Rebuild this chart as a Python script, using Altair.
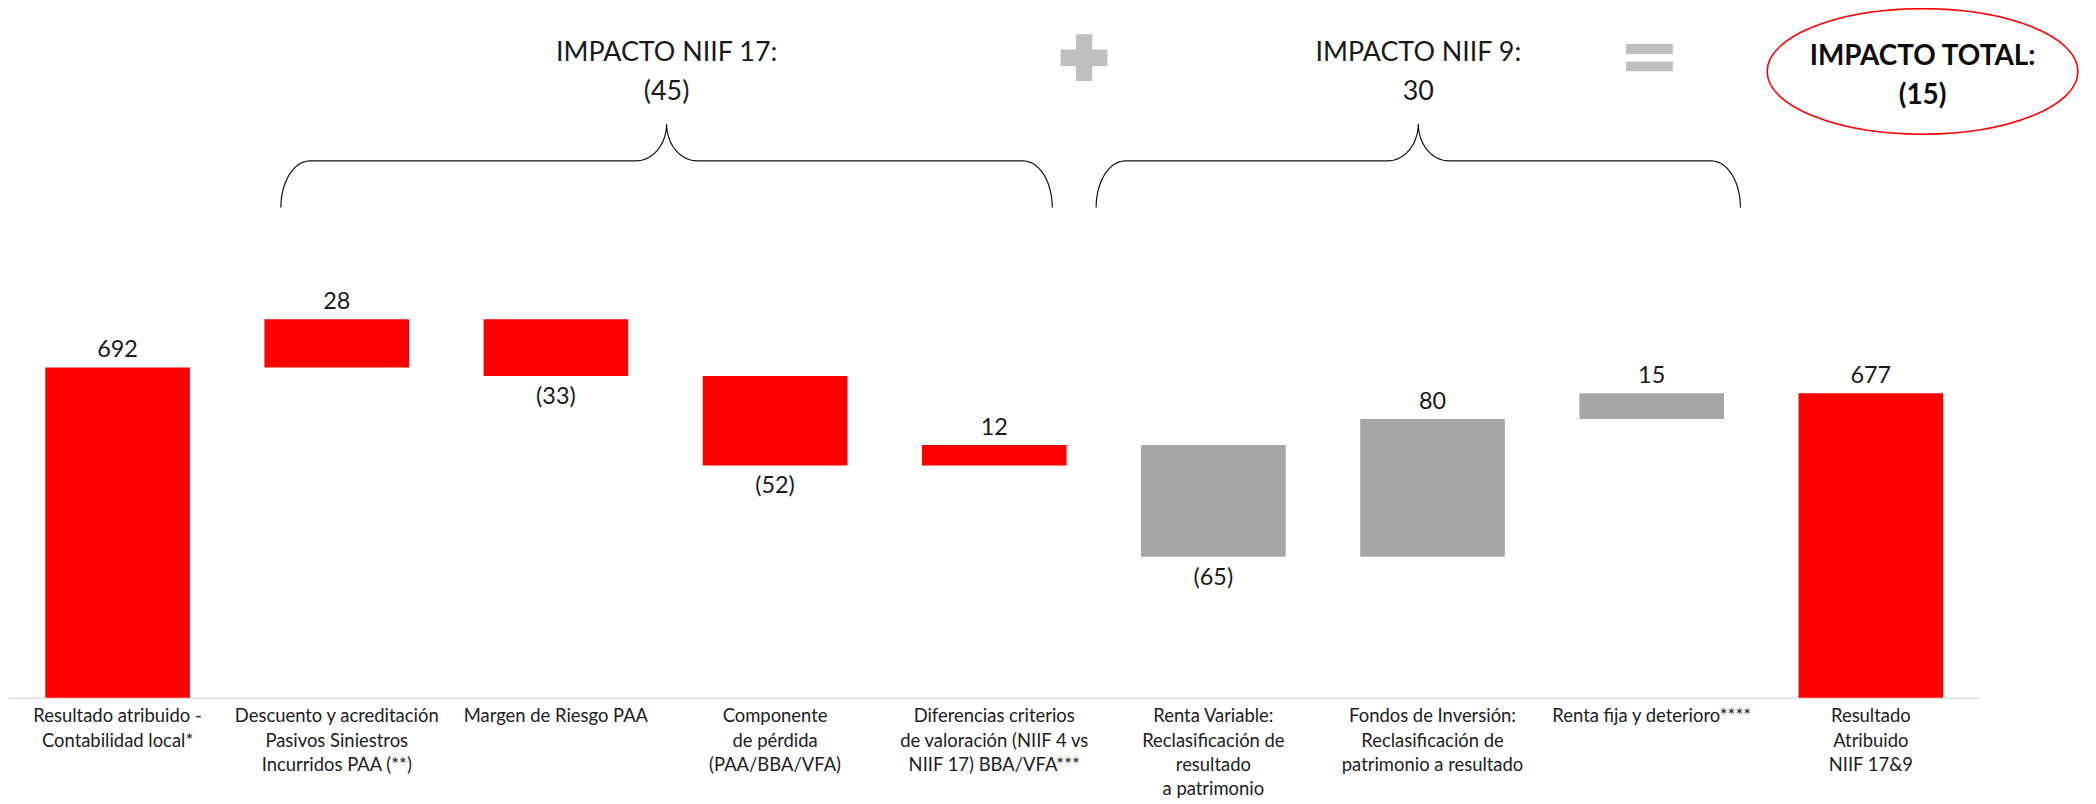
import math
import altair as alt
import pandas as pd

# ---------------- data ----------------
categories = [
    "Resultado atribuido -|Contabilidad local*",
    "Descuento y acreditación|Pasivos Siniestros|Incurridos PAA (**)",
    "Margen de Riesgo PAA",
    "Componente|de pérdida|(PAA/BBA/VFA)",
    "Diferencias criterios|de valoración (NIIF 4 vs|NIIF 17) BBA/VFA***",
    "Renta Variable:|Reclasificación de|resultado|a patrimonio",
    "Fondos de Inversión:|Reclasificación de|patrimonio a resultado",
    "Renta fija y deterioro****",
    "Resultado|Atribuido|NIIF 17&9",
]
values = [692, 28, -33, -52, 12, -65, 80, 15, 677]
kinds = ["total", "delta", "delta", "delta", "delta", "delta", "delta", "delta", "total"]
groups = ["Total", "NIIF 17", "NIIF 17", "NIIF 17", "NIIF 17", "NIIF 9", "NIIF 9", "NIIF 9", "Total"]

group_names = ["Total", "NIIF 17", "NIIF 9"]
group_colors = ["#FF0000", "#FF0000", "#A6A6A6"]

# ---------------- layout constants ----------------
W, H = 1980, 691
Y_MIN, Y_MAX = 500, 900
N = len(categories)
KX = N / W              # index units per pixel
KY = (Y_MAX - Y_MIN) / H  # value units per pixel
FONT = "Lato"
TXT = "#1a1a1a"


def fmt(v):
    return f"({abs(v)})" if v < 0 else f"{v}"


rows = []
running = 0
for c, v, k, g in zip(categories, values, kinds, groups):
    if k == "total":
        lo, hi = Y_MIN, v
        running = v
    else:
        prev = running
        running += v
        lo, hi = min(prev, running), max(prev, running)
    rows.append(dict(cat=c, lo=lo, hi=hi, group=g, label=fmt(v),
                     above=v >= 0, ypos=hi if v >= 0 else lo))
df = pd.DataFrame(rows)

niif17 = sum(v for v, g in zip(values, groups) if g == "NIIF 17")
niif9 = sum(v for v, g in zip(values, groups) if g == "NIIF 9")
total_impact = niif17 + niif9

# ---------------- annotation geometry ----------------
brace_spans = [("NIIF 17", 1.245, 4.765), ("NIIF 9", 4.965, 7.905)]
BRACE_END, BRACE_ARM, BRACE_TIP = 785, 812, 833.5
R_END_PX, R_TIP_PX = 29, 31


def arc(cx, cy, rx, ry, t0, t1, n=14):
    return [(cx + rx * math.cos(t0 + (t1 - t0) * j / n),
             cy + ry * math.sin(t0 + (t1 - t0) * j / n)) for j in range(n + 1)]


brace_rows = []
for name, x0, x1 in brace_spans:
    tip = (x0 + x1) / 2
    re = R_END_PX * KX
    rt = R_TIP_PX * KX
    ry_e = BRACE_ARM - BRACE_END
    ry_t = BRACE_TIP - BRACE_ARM
    pts = []
    pts += arc(x0 + re, BRACE_END, re, ry_e, math.pi, math.pi / 2)
    pts += arc(tip - rt, BRACE_TIP, rt, ry_t, -math.pi / 2, 0)
    pts += arc(tip + rt, BRACE_TIP, rt, ry_t, math.pi, 1.5 * math.pi)
    pts += arc(x1 - re, BRACE_END, re, ry_e, math.pi / 2, 0)
    for j, (px, py) in enumerate(pts):
        brace_rows.append(dict(brace=name, order=j, x=px, y=py))
brace_df = pd.DataFrame(brace_rows)

LINE1_Y, LINE2_Y = 875, 852
header_rows = []
for name, x0, x1 in brace_spans:
    tip = (x0 + x1) / 2
    val = niif17 if name == "NIIF 17" else niif9
    header_rows.append(dict(x=tip, y=LINE1_Y, text=f"IMPACTO {name}:"))
    header_rows.append(dict(x=tip, y=LINE2_Y, text=fmt(val)))
header_df = pd.DataFrame(header_rows)

ELL_X, ELL_Y = 8.736, 864
total_df = pd.DataFrame([
    dict(x=ELL_X, y=872.5, text="IMPACTO TOTAL:"),
    dict(x=ELL_X, y=849.5, text=fmt(total_impact)),
])
ell_df = pd.DataFrame([dict(x=ELL_X, y=ELL_Y)])
plus_df = pd.DataFrame([dict(x=4.91, y=872)])
eq_df = pd.DataFrame([dict(x=7.49, y=872)])

b = 0.404
k = 0.5523
ELLIPSE_PATH = (f"M -1 0 C -1 {-k*b:.4f} {-k:.4f} {-b} 0 {-b} C {k:.4f} {-b} 1 {-k*b:.4f} 1 0 "
                f"C 1 {k*b:.4f} {k:.4f} {b} 0 {b} C {-k:.4f} {b} -1 {k*b:.4f} -1 0 Z")
t = 0.35
PLUS_PATH = (f"M {-t} -1 L {t} -1 L {t} {-t} L 1 {-t} L 1 {t} L {t} {t} L {t} 1 L {-t} 1 "
             f"L {-t} {t} L -1 {t} L -1 {-t} L {-t} {-t} Z")
EQ_PATH = ("M -1 -0.58 L 1 -0.58 L 1 -0.16 L -1 -0.16 Z "
           "M -1 0.16 L 1 0.16 L 1 0.58 L -1 0.58 Z")

# ---------------- chart ----------------
yscale = alt.Scale(domain=[Y_MIN, Y_MAX], nice=False, zero=False)

xband = alt.X(
    "cat:N", sort=categories,
    scale=alt.Scale(paddingInner=0.34, paddingOuter=0.17),
    axis=alt.Axis(title=None, labelAngle=0, labelExpr="split(datum.label, '|')",
                  labelFont=FONT, labelFontSize=18.5, labelColor="#202020",
                  labelLineHeight=24.5, labelPadding=9, labelBaseline="top",
                  labelLimit=400, ticks=False, domainColor="#DCE0EA", domainWidth=1.5,
                  grid=False),
)

bars = alt.Chart(df).mark_bar().encode(
    x=xband,
    y=alt.Y("hi:Q", scale=yscale, axis=None),
    y2="lo:Q",
    color=alt.Color("group:N", scale=alt.Scale(domain=group_names, range=group_colors),
                    legend=None),
)

lab_above = alt.Chart(df).transform_filter("datum.above").mark_text(
    baseline="bottom", dy=-5, font=FONT, fontSize=23.5, color=TXT
).encode(x=alt.X("cat:N", sort=categories), y=alt.Y("ypos:Q", scale=yscale, axis=None),
         text="label:N")

lab_below = alt.Chart(df).transform_filter("!datum.above").mark_text(
    baseline="top", dy=9, font=FONT, fontSize=23.5, color=TXT
).encode(x=alt.X("cat:N", sort=categories), y=alt.Y("ypos:Q", scale=yscale, axis=None),
         text="label:N")

base_layer = alt.layer(bars, lab_above, lab_below)

xq = alt.X("x:Q", scale=alt.Scale(domain=[0, N], nice=False, zero=False), axis=None)
yq = alt.Y("y:Q", scale=yscale, axis=None)

braces = alt.Chart(brace_df).mark_line(color="#111111", strokeWidth=1.2).encode(
    x=xq, y=yq, detail="brace:N", order="order:Q")

headers = alt.Chart(header_df).mark_text(
    font=FONT, fontSize=27, color=TXT, baseline="middle", align="center"
).encode(x=xq, y=yq, text="text:N")

total_text = alt.Chart(total_df).mark_text(
    font=FONT, fontSize=28, fontWeight="bold", color="#0d0d0d", baseline="middle",
    align="center"
).encode(x=xq, y=yq, text="text:N")

ellipse = alt.Chart(ell_df).mark_point(
    shape=ELLIPSE_PATH, size=312 ** 2, filled=False, stroke="#FF0000",
    strokeWidth=1.6, opacity=1
).encode(x=xq, y=yq)

plus = alt.Chart(plus_df).mark_point(
    shape=PLUS_PATH, size=47 ** 2, filled=True, color="#BFBFBF", opacity=1, strokeWidth=0
).encode(x=xq, y=yq)

equals = alt.Chart(eq_df).mark_point(
    shape=EQ_PATH, size=47 ** 2, filled=True, color="#BFBFBF", opacity=1, strokeWidth=0
).encode(x=xq, y=yq)

annot_layer = alt.layer(braces, headers, plus, equals, ellipse, total_text)

chart = alt.layer(base_layer, annot_layer).resolve_scale(x="independent").properties(
    width=W, height=H,
    background="white",
    autosize=alt.AutoSizeParams(type="none"),
    padding={"left": 0, "top": 0, "right": 108, "bottom": 100},
).configure_view(strokeWidth=0, stroke="transparent")

chart.save("out.html", embed_options={"renderer": "svg", "actions": False})
